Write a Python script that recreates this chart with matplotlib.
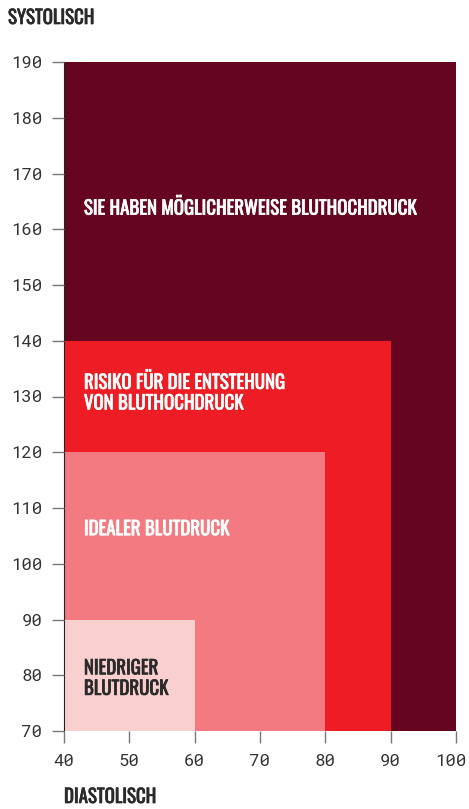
import matplotlib
matplotlib.use("Agg")
import matplotlib.pyplot as plt
from matplotlib.patches import Rectangle
from matplotlib.transforms import ScaledTranslation
import matplotlib.patheffects as pe

# Data
categories = ["SIE HABEN MÖGLICHERWEISE BLUTHOCHDRUCK",
              "RISIKO FÜR DIE ENTSTEHUNG\nVON BLUTHOCHDRUCK",
              "IDEALER BLUTDRUCK",
              "NIEDRIGER\nBLUTDRUCK"]
diastolic_max = [100, 90, 80, 60]
systolic_max = [190, 140, 120, 90]
label_y = [163.8, 130.7, 106.2, 79.4]
colors = ["#650520", "#EE1D25", "#F27A80", "#F9D0CF"]
text_colors = ["white", "white", "white", "#2a2a2a"]
x_ticks = [40, 50, 60, 70, 80, 90, 100]
y_ticks = [70, 80, 90, 100, 110, 120, 130, 140, 150, 160, 170, 180, 190]
x_min, y_min = 40, 70

cond = ["Oswald", "DejaVu Sans"]
mono = ["Roboto Mono", "Fira Mono", "IBM Plex Mono", "DejaVu Sans Mono"]

W, H = 469, 809
fig = plt.figure(figsize=(W / 100, H / 100), dpi=100)
ax = fig.add_axes([64 / W, 1 - 731 / H, (456 - 64) / W, (731 - 62) / H])

for xm, ym, c in zip(diastolic_max, systolic_max, colors):
    ax.add_patch(Rectangle((x_min, y_min), xm - x_min, ym - y_min, facecolor=c, edgecolor="none", zorder=1))

for lab, ly, tc in zip(categories, label_y, text_colors):
    ax.text(43.05, ly, lab, color=tc, fontsize=13.6, family=cond,
            ha="left", va="center", linespacing=1.17, zorder=3,
            path_effects=[pe.withStroke(linewidth=0.5, foreground=tc)])

ax.set_xlim(40, 100)
ax.set_ylim(70, 190)
ax.set_xticks(x_ticks)
ax.set_yticks(y_ticks)
for s in ["top", "right"]:
    ax.spines[s].set_visible(False)
ax.spines["left"].set_color("#222222")
ax.spines["bottom"].set_visible(False)
ax.tick_params(axis="both", direction="out", length=8.6, width=1, color="#777777",
               labelsize=12.5, labelcolor="#333333")
ax.tick_params(axis="y", pad=7)
ax.tick_params(axis="x", pad=8)
for lbl in ax.get_xticklabels() + ax.get_yticklabels():
    lbl.set_family(mono)
ax.set_axisbelow(False)

# keep the last x tick label inside the figure, as in the reference
last = ax.xaxis.get_major_ticks()[-1].label1
last.set_transform(last.get_transform() + ScaledTranslation(-5 / 100, 0, fig.dpi_scale_trans))

for txt, x, y in [("SYSTOLISCH", 8, 18), ("DIASTOLISCH", 64, 797)]:
    fig.text(x / W, 1 - y / H, txt, fontsize=13.6, family=cond,
             color="#2a2a2a", ha="left", va="center",
             path_effects=[pe.withStroke(linewidth=0.5, foreground="#2a2a2a")])

fig.savefig("out.png", dpi=100)
